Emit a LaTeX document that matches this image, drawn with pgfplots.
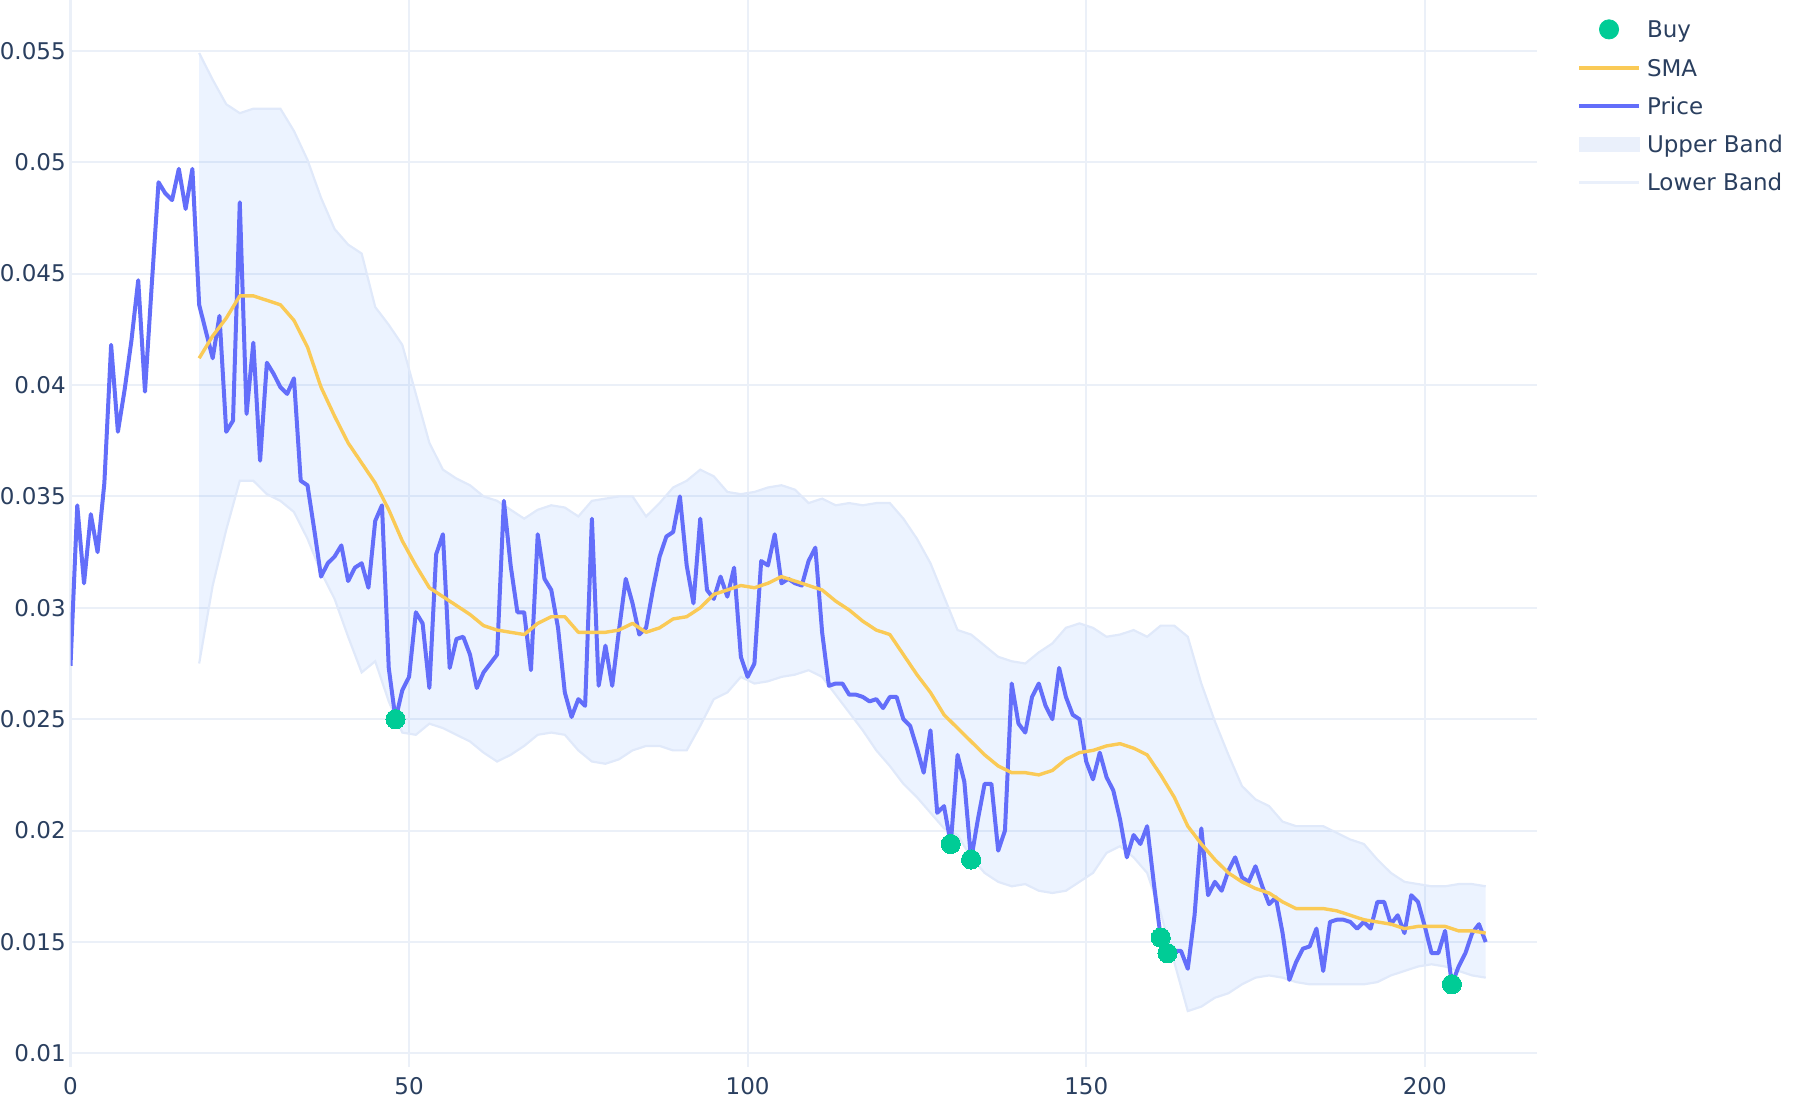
\documentclass[border=0pt]{standalone}
\usepackage{pgfplots}
\pgfplotsset{compat=1.18}
\usepackage{pgfplotstable}
\usepgfplotslibrary{fillbetween}
\usepackage{fontspec}
\setmainfont{DejaVu Sans}
\definecolor{pricecol}{RGB}{99,110,250}
\definecolor{smacol}{RGB}{250,202,86}
\definecolor{buygreen}{RGB}{0,204,150}
\definecolor{bandfill}{RGB}{68,138,255}
\definecolor{bandline}{RGB}{224,233,250}
\definecolor{bandleg}{RGB}{234,240,251}
\definecolor{gridcol}{RGB}{235,240,248}
\definecolor{textcol}{RGB}{42,63,95}

\pgfplotstableread{
x y
0 0.0274
1 0.0346
2 0.0311
3 0.0342
4 0.0325
5 0.0356
6 0.0418
7 0.0379
8 0.0398
9 0.0420
10 0.0447
11 0.0397
12 0.0445
13 0.0491
14 0.0486
15 0.0483
16 0.0497
17 0.0479
18 0.0497
19 0.0436
20 0.0424
21 0.0412
22 0.0431
23 0.0379
24 0.0384
25 0.0482
26 0.0387
27 0.0419
28 0.0366
29 0.0410
30 0.0405
31 0.0399
32 0.0396
33 0.0403
34 0.0357
35 0.0355
36 0.0335
37 0.0314
38 0.0320
39 0.0323
40 0.0328
41 0.0312
42 0.0318
43 0.0320
44 0.0309
45 0.0339
46 0.0346
47 0.0273
48 0.0250
49 0.0263
50 0.0269
51 0.0298
52 0.0293
53 0.0264
54 0.0324
55 0.0333
56 0.0273
57 0.0286
58 0.0287
59 0.0279
60 0.0264
61 0.0271
62 0.0275
63 0.0279
64 0.0348
65 0.0319
66 0.0298
67 0.0298
68 0.0272
69 0.0333
70 0.0313
71 0.0308
72 0.0291
73 0.0262
74 0.0251
75 0.0259
76 0.0256
77 0.0340
78 0.0265
79 0.0283
80 0.0265
81 0.0290
82 0.0313
83 0.0302
84 0.0288
85 0.0291
86 0.0308
87 0.0323
88 0.0332
89 0.0334
90 0.0350
91 0.0319
92 0.0302
93 0.0340
94 0.0308
95 0.0304
96 0.0314
97 0.0305
98 0.0318
99 0.0278
100 0.0269
101 0.0275
102 0.0321
103 0.0319
104 0.0333
105 0.0311
106 0.0313
107 0.0311
108 0.0310
109 0.0321
110 0.0327
111 0.0289
112 0.0265
113 0.0266
114 0.0266
115 0.0261
116 0.0261
117 0.0260
118 0.0258
119 0.0259
120 0.0255
121 0.0260
122 0.0260
123 0.0250
124 0.0247
125 0.0237
126 0.0226
127 0.0245
128 0.0208
129 0.0211
130 0.0194
131 0.0234
132 0.0222
133 0.0187
134 0.0205
135 0.0221
136 0.0221
137 0.0191
138 0.0200
139 0.0266
140 0.0248
141 0.0244
142 0.0260
143 0.0266
144 0.0256
145 0.0250
146 0.0273
147 0.0260
148 0.0252
149 0.0250
150 0.0231
151 0.0223
152 0.0235
153 0.0224
154 0.0218
155 0.0205
156 0.0188
157 0.0198
158 0.0194
159 0.0202
160 0.0176
161 0.0152
162 0.0145
163 0.0146
164 0.0146
165 0.0138
166 0.0162
167 0.0201
168 0.0171
169 0.0177
170 0.0173
171 0.0182
172 0.0188
173 0.0179
174 0.0177
175 0.0184
176 0.0175
177 0.0167
178 0.0170
179 0.0154
180 0.0133
181 0.0141
182 0.0147
183 0.0148
184 0.0156
185 0.0137
186 0.0159
187 0.0160
188 0.0160
189 0.0159
190 0.0156
191 0.0159
192 0.0156
193 0.0168
194 0.0168
195 0.0158
196 0.0162
197 0.0154
198 0.0171
199 0.0168
200 0.0157
201 0.0145
202 0.0145
203 0.0155
204 0.0131
205 0.0139
206 0.0145
207 0.0154
208 0.0158
209 0.0150
}\price

\pgfplotstableread{
x sma up lo
19 0.0412 0.0549 0.0275
21 0.0422 0.0537 0.0310
23 0.0430 0.0526 0.0335
25 0.0440 0.0522 0.0357
27 0.0440 0.0524 0.0357
29 0.0438 0.0524 0.0351
31 0.0436 0.0524 0.0348
33 0.0429 0.0514 0.0343
35 0.0417 0.0501 0.0331
37 0.0399 0.0484 0.0316
39 0.0386 0.0470 0.0304
41 0.0374 0.0463 0.0287
43 0.0365 0.0459 0.0271
45 0.0356 0.0435 0.0276
47 0.0344 0.0427 0.0258
49 0.0330 0.0418 0.0244
51 0.0319 0.0396 0.0243
53 0.0309 0.0374 0.0248
55 0.0305 0.0362 0.0246
57 0.0301 0.0358 0.0243
59 0.0297 0.0355 0.0240
61 0.0292 0.0350 0.0235
63 0.0290 0.0348 0.0231
65 0.0289 0.0344 0.0234
67 0.0288 0.0340 0.0238
69 0.0293 0.0344 0.0243
71 0.0296 0.0346 0.0244
73 0.0296 0.0345 0.0243
75 0.0289 0.0341 0.0236
77 0.0289 0.0348 0.0231
79 0.0289 0.0349 0.0230
81 0.0290 0.0350 0.0232
83 0.0293 0.0350 0.0236
85 0.0289 0.0341 0.0238
87 0.0291 0.0347 0.0238
89 0.0295 0.0354 0.0236
91 0.0296 0.0357 0.0236
93 0.0300 0.0362 0.0247
95 0.0306 0.0359 0.0259
97 0.0308 0.0352 0.0262
99 0.0310 0.0351 0.0269
101 0.0309 0.0352 0.0266
103 0.0311 0.0354 0.0267
105 0.0314 0.0355 0.0269
107 0.0312 0.0353 0.0270
109 0.0310 0.0347 0.0272
111 0.0308 0.0349 0.0269
113 0.0303 0.0346 0.0261
115 0.0299 0.0347 0.0253
117 0.0294 0.0346 0.0245
119 0.0290 0.0347 0.0236
121 0.0288 0.0347 0.0229
123 0.0279 0.0340 0.0221
125 0.0270 0.0331 0.0215
127 0.0262 0.0320 0.0208
129 0.0252 0.0305 0.0201
131 0.0246 0.0290 0.0198
133 0.0240 0.0288 0.0188
135 0.0234 0.0283 0.0181
137 0.0229 0.0278 0.0177
139 0.0226 0.0276 0.0175
141 0.0226 0.0275 0.0176
143 0.0225 0.0280 0.0173
145 0.0227 0.0284 0.0172
147 0.0232 0.0291 0.0173
149 0.0235 0.0293 0.0177
151 0.0236 0.0291 0.0181
153 0.0238 0.0287 0.0190
155 0.0239 0.0288 0.0193
157 0.0237 0.0290 0.0188
159 0.0234 0.0287 0.0181
161 0.0225 0.0292 0.0163
163 0.0215 0.0292 0.0141
165 0.0202 0.0287 0.0119
167 0.0194 0.0266 0.0121
169 0.0187 0.0249 0.0125
171 0.0181 0.0234 0.0127
173 0.0177 0.0220 0.0131
175 0.0174 0.0214 0.0134
177 0.0172 0.0211 0.0135
179 0.0168 0.0204 0.0134
181 0.0165 0.0202 0.0132
183 0.0165 0.0202 0.0131
185 0.0165 0.0202 0.0131
187 0.0164 0.0199 0.0131
189 0.0162 0.0196 0.0131
191 0.0160 0.0194 0.0131
193 0.0159 0.0187 0.0132
195 0.0158 0.0181 0.0135
197 0.0156 0.0177 0.0137
199 0.0157 0.0176 0.0139
201 0.0157 0.0175 0.0140
203 0.0157 0.0175 0.0139
205 0.0155 0.0176 0.0137
207 0.0155 0.0176 0.0135
209 0.0154 0.0175 0.0134
}\band

\pgfplotstableread{
x y
48 0.0250
130 0.0194
133 0.0187
161 0.0152
162 0.0145
204 0.0131
}\buys

\begin{document}
\begin{tikzpicture}
\begin{axis}[
  at={(0,0)}, anchor=south west,
  scale only axis, width=733bp, height=533.5bp,
  xmin=0, xmax=216.5, ymin=0.00939, ymax=0.05728,
  axis line style={draw=none}, major tick length=0pt,
  xtick={50,100,150,200}, xticklabels={50,100,150,200},
  extra x ticks={0}, extra x tick labels={0},
  extra x tick style={major grid style={gridcol, line width=1.7bp}},
  ytick={0.01,0.015,0.02,0.025,0.03,0.035,0.04,0.045,0.05,0.055},
  yticklabels={0.01,0.015,0.02,0.025,0.03,0.035,0.04,0.045,0.05,0.055},
  scaled y ticks=false,
  grid=major, major grid style={gridcol, line width=1bp},
  tick label style={font=\fontsize{11.5bp}{13bp}\selectfont, text=textcol},
  xticklabel style={anchor=north, inner sep=0pt, yshift=-4.8bp},
  yticklabel style={anchor=east, inner sep=0pt, xshift=-2.2bp},
  legend cell align=left,
  legend style={at={(1.02763,0.98182)}, anchor=north west,
    draw=none, fill=none, inner sep=0pt, outer sep=0pt,
    font=\fontsize{11.5bp}{13bp}\selectfont, text=textcol,
    row sep=9.5bp,
    nodes={inner sep=0pt, text height=9bp, text depth=0.6bp},
    /tikz/every odd column/.append style={column sep=3bp}},
]
\addplot[draw=none, name path=up, forget plot] table[x=x, y=up] {\band};
\addplot[draw=none, name path=lo, forget plot] table[x=x, y=lo] {\band};
\addplot[fill=bandfill, fill opacity=0.1, draw=none, forget plot] fill between[of=up and lo];
\addplot[bandline, line width=1.1bp, forget plot] table[x=x, y=up] {\band};
\addplot[bandline, line width=1.1bp, forget plot] table[x=x, y=lo] {\band};
\addplot[pricecol, line width=2bp, line join=round, forget plot] table[x=x, y=y] {\price};
\addplot[smacol, line width=1.7bp, line join=round, forget plot] table[x=x, y=sma] {\band};
\addplot[buygreen, only marks, mark=*, mark size=4.8bp, mark options={fill=buygreen, draw=buygreen, line width=0pt}, forget plot] table[x=x, y=y] {\buys};

\addlegendimage{legend image code/.code={\fill[buygreen] (15bp,0bp) circle (4.8bp);}}
\addlegendentry{Buy}
\addlegendimage{legend image code/.code={\draw[smacol, line width=1.7bp] (0bp,0bp) -- (30bp,0bp);}}
\addlegendentry{SMA}
\addlegendimage{legend image code/.code={\draw[pricecol, line width=2bp] (0bp,0bp) -- (30bp,0bp);}}
\addlegendentry{Price}
\addlegendimage{legend image code/.code={\fill[bandleg] (0bp,-3.5bp) rectangle (30bp,3.5bp);}}
\addlegendentry{Upper Band}
\addlegendimage{legend image code/.code={\draw[bandleg, line width=1.3bp] (0bp,0bp) -- (30bp,0bp);}}
\addlegendentry{Lower Band}
\end{axis}
\pgfresetboundingbox
\useasboundingbox (-35.25bp,-16.5bp) rectangle (864.75bp,533.5bp);
\end{tikzpicture}
\end{document}
